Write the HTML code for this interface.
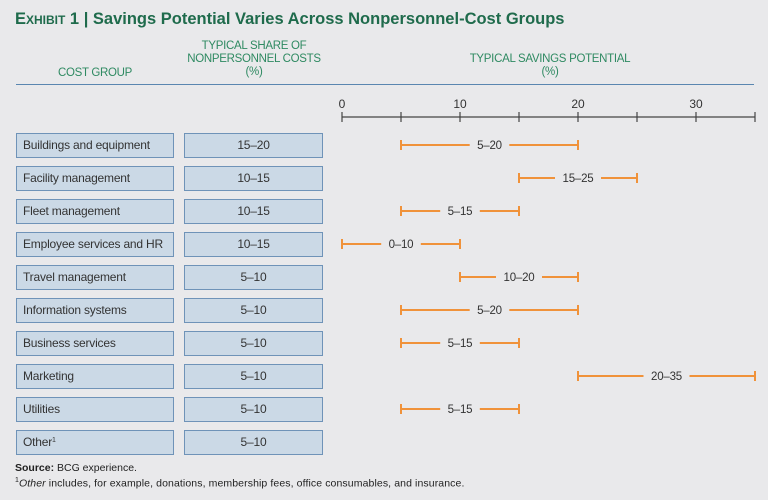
<!DOCTYPE html>
<html><head><meta charset="utf-8"><style>
body{margin:0;width:768px;height:500px;background:#e9e9eb;font-family:"Liberation Sans",sans-serif;overflow:hidden;position:relative}
.t{position:absolute;white-space:nowrap}
.box{position:absolute;height:25px;background:#cbd9e6;border:1px solid #6f93b8;box-sizing:border-box;font-size:12px;letter-spacing:-0.2px;color:#333;line-height:23px;white-space:nowrap;overflow:hidden}
.box sup{font-size:7px;line-height:0;vertical-align:4px}
.hd{position:absolute;color:#2f8a62;font-size:11.5px;letter-spacing:-0.3px;text-align:center;line-height:13px}
</style></head><body>
<div class="t" style="left:15px;top:10px;font-size:16.5px;letter-spacing:0px;font-weight:bold;color:#1f6b4c"><span style="font-variant:small-caps">Exhibit 1</span> | Savings Potential Varies Across Nonpersonnel-Cost Groups</div>
<div class="hd" style="left:16px;width:158px;top:67px">COST GROUP</div>
<div class="hd" style="left:180px;width:148px;top:40px">TYPICAL SHARE OF<br>NONPERSONNEL COSTS<br>(%)</div>
<div class="hd" style="left:400px;width:300px;top:53px">TYPICAL SAVINGS POTENTIAL<br>(%)</div>
<div style="position:absolute;left:16px;top:84px;width:738px;height:1px;background:#5a86b0"></div>
<div id="rows"></div>
<svg id="chart" width="768" height="500" style="position:absolute;left:0;top:0"></svg>
<div class="t" style="left:15px;top:462px;font-size:10.5px;color:#222"><b>Source:</b> BCG experience.</div>
<div class="t" style="left:15px;top:477px;font-size:10.5px;letter-spacing:0.1px;color:#222"><sup style="font-size:7px">1</sup><i>Other</i> includes, for example, donations, membership fees, office consumables, and insurance.</div>
<script>
const categories=["Buildings and equipment","Facility management","Fleet management","Employee services and HR","Travel management","Information systems","Business services","Marketing","Utilities","Other"];
const shares=["15–20","10–15","10–15","10–15","5–10","5–10","5–10","5–10","5–10","5–10"];
const lows=[5,15,5,0,10,5,5,20,5,null];
const highs=[20,25,15,10,20,20,15,35,15,null];
const ticks=[0,5,10,15,20,25,30,35];
const tickLabels=[0,10,20,30];
const x=v=>342+v*11.8;
const y=i=>145+i*33;
const NS="http://www.w3.org/2000/svg";
const svg=document.getElementById('chart');
const rows=document.getElementById('rows');
function mk(tag,at,parent){const e=document.createElementNS(NS,tag);for(const k in at)e.setAttribute(k,at[k]);(parent||svg).appendChild(e);return e;}
const ax=mk('line',{x1:x(0),x2:x(35),y1:117,y2:117,stroke:'#444','stroke-width':1.2});


ticks.forEach(t=>{const l=mk('line',{x1:x(t),x2:x(t),y1:112,y2:122,stroke:'#444','stroke-width':1.2});

});
tickLabels.forEach(t=>{const tx=mk('text',{x:x(t),y:108,'text-anchor':'middle','font-size':12,fill:'#333','font-family':'Liberation Sans'});tx.textContent=t;

});
categories.forEach((c,i)=>{
const b=document.createElement('div');b.className='box';b.style.left='16px';b.style.width='158px';b.style.top=(y(i)-12.5)+'px';b.style.paddingLeft='6px';
b.innerHTML=c==='Other'?'Other<sup>1</sup>':c;


rows.appendChild(b);
const s=document.createElement('div');s.className='box';s.style.left='184px';s.style.width='139px';s.style.top=(y(i)-12.5)+'px';s.style.textAlign='center';s.textContent=shares[i];


rows.appendChild(s);
if(lows[i]===null)return;
const g=mk('g',{});


const x1=x(lows[i]),x2=x(highs[i]),cy=y(i),mid=(x1+x2)/2,lbl=lows[i]+'–'+highs[i],hw=lbl.length*3.2+7;
const o={stroke:'#f0923a','stroke-width':2};
mk('line',Object.assign({x1:x1,x2:mid-hw,y1:cy,y2:cy},o),g);
mk('line',Object.assign({x1:mid+hw,x2:x2,y1:cy,y2:cy},o),g);
mk('line',Object.assign({x1:x1,x2:x1,y1:cy-5,y2:cy+5},o),g);
mk('line',Object.assign({x1:x2,x2:x2,y1:cy-5,y2:cy+5},o),g);
const t=mk('text',{x:mid,y:cy+4,'text-anchor':'middle','font-size':11.5,'letter-spacing':-0.2,fill:'#333','font-family':'Liberation Sans'},g);t.textContent=lbl;
});
</script>
</body></html>
